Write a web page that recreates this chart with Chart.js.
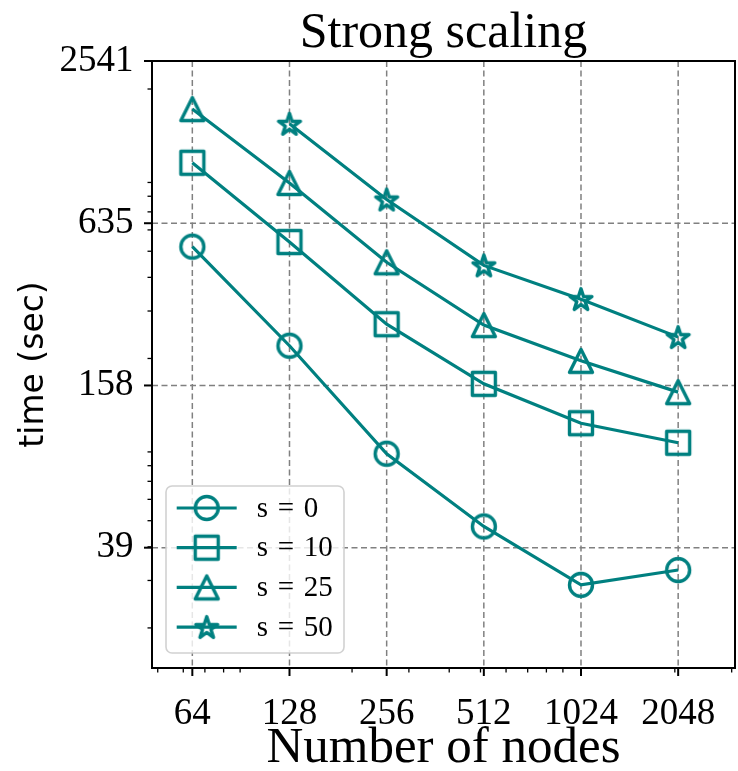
<!DOCTYPE html>
<html>
<head>
<meta charset="utf-8">
<script src="https://cdn.jsdelivr.net/npm/chart.js@4/dist/chart.umd.min.js"></script>
<style>html,body{margin:0;padding:0;background:#fff}canvas{display:block}</style>
</head>
<body>
<canvas id="c" width="738" height="771" style="width:738px;height:771px"></canvas>
<script>
// ---- data ----
const nodes = [64, 128, 256, 512, 1024, 2048];
const xTickLabels = ['64', '128', '256', '512', '1024', '2048'];
const seriesLabels = ['s = 0', 's = 10', 's = 25', 's = 50'];
const s0  = [520, 223, 88.6, 47.6, 28.9, 32.8];
const s10 = [1065, 541, 268, 161, 115, 97.3];
const s25 = [1685, 896, 455, 266, 196, 150];
const s50 = [null, 1485, 778, 443, 332, 240];
const yTickValues = [39.7, 158.8, 635.25, 2541];
const yTickLabels = ['39', '158', '635', '2541'];
const xMinorTicks = [50, 60, 70, 80, 90, 200, 300, 400, 500, 600, 700, 800, 900, 2000, 3000];
const yMinorTicks = [20, 30, 40, 50, 60, 70, 80, 90, 200, 300, 400, 500, 600, 700, 800, 900, 2000];

const TEAL = '#008080';
const SERIF = '"Liberation Serif", "Times New Roman", serif';

function makeMarker(kind) {
  const S = 36, c = document.createElement('canvas');
  c.width = S; c.height = S;
  const g = c.getContext('2d');
  g.strokeStyle = TEAL; g.lineWidth = 3.4; g.lineJoin = 'round';
  const m = S / 2, r = 11.5;
  g.beginPath();
  if (kind === 'circle') {
    g.arc(m, m, r, 0, Math.PI * 2);
  } else if (kind === 'square') {
    g.rect(m - r, m - r, 2 * r, 2 * r);
  } else if (kind === 'triangle') {
    g.moveTo(m, m - r); g.lineTo(m + r, m + r); g.lineTo(m - r, m + r); g.closePath();
  } else {
    const R = 11.5, ri = R * 0.381966;
    for (let k = 0; k < 10; k++) {
      const a = -Math.PI / 2 + k * Math.PI / 5;
      const rr = (k % 2) ? ri : R;
      const px = m + rr * Math.cos(a), py = m + 1 + rr * Math.sin(a);
      if (k === 0) g.moveTo(px, py); else g.lineTo(px, py);
    }
    g.closePath();
  }
  g.stroke();
  return c;
}
const markerImgs = ['circle', 'square', 'triangle', 'star'].map(makeMarker);
const seriesData = [s0, s10, s25, s50];

const axesPlugin = {
  id: 'mplAxes',
  beforeDatasetsDraw(chart) {
    const { ctx, chartArea: a, scales: { x, y } } = chart;
    ctx.save();
    ctx.strokeStyle = '#808080';
    ctx.lineWidth = 1.5;
    ctx.setLineDash([6, 3.5]);
    nodes.forEach(v => {
      const px = x.getPixelForValue(v);
      ctx.beginPath(); ctx.moveTo(px, a.top); ctx.lineTo(px, a.bottom); ctx.stroke();
    });
    yTickValues.forEach(v => {
      const py = y.getPixelForValue(v);
      ctx.beginPath(); ctx.moveTo(a.left, py); ctx.lineTo(a.right, py); ctx.stroke();
    });
    ctx.restore();
  },
  afterDatasetsDraw(chart) {
    const { ctx, chartArea: a, scales: { x, y } } = chart;
    ctx.save();
    ctx.strokeStyle = '#000';
    ctx.setLineDash([]);
    ctx.lineWidth = 1.3;
    xMinorTicks.forEach(v => {
      const px = x.getPixelForValue(v);
      ctx.beginPath(); ctx.moveTo(px, a.bottom); ctx.lineTo(px, a.bottom + 4.5); ctx.stroke();
    });
    yMinorTicks.forEach(v => {
      const py = y.getPixelForValue(v);
      ctx.beginPath(); ctx.moveTo(a.left, py); ctx.lineTo(a.left - 4.5, py); ctx.stroke();
    });
    ctx.lineWidth = 2;
    nodes.forEach(v => {
      const px = x.getPixelForValue(v);
      ctx.beginPath(); ctx.moveTo(px, a.bottom); ctx.lineTo(px, a.bottom + 8); ctx.stroke();
    });
    yTickValues.forEach(v => {
      const py = y.getPixelForValue(v);
      ctx.beginPath(); ctx.moveTo(a.left, py); ctx.lineTo(a.left - 8, py); ctx.stroke();
    });
    ctx.lineWidth = 2;
    ctx.strokeRect(a.left, a.top, a.right - a.left, a.bottom - a.top);
    ctx.restore();
  }
};

const legendPlugin = {
  id: 'mplLegend',
  afterDraw(chart) {
    const { ctx, chartArea: a } = chart;
    const w = 178, h = 167;
    const bx = a.left + 14, by = a.bottom - 15 - h;
    ctx.save();
    ctx.beginPath();
    if (ctx.roundRect) ctx.roundRect(bx, by, w, h, 6); else ctx.rect(bx, by, w, h);
    ctx.fillStyle = 'rgba(255,255,255,0.8)';
    ctx.fill();
    ctx.strokeStyle = 'rgba(204,204,204,0.9)';
    ctx.lineWidth = 1.6;
    ctx.stroke();
    chart.data.datasets.forEach((ds, i) => {
      const ry = by + 22 + i * 39.7;
      ctx.strokeStyle = ds.borderColor;
      ctx.lineWidth = ds.borderWidth;
      ctx.beginPath(); ctx.moveTo(bx + 10.7, ry); ctx.lineTo(bx + 70.7, ry); ctx.stroke();
      const img = ds.pointStyle;
      ctx.drawImage(img, bx + 40.7 - img.width / 2, ry - img.height / 2);
      ctx.fillStyle = '#000';
      ctx.font = '29px ' + SERIF;
      ctx.textBaseline = 'middle';
      ctx.textAlign = 'left';
      ctx.fillText(ds.label.replace(/ /g, '\u2004'), bx + 90.7, ry + 1);
    });
    ctx.restore();
  }
};

new Chart(document.getElementById('c'), {
  type: 'line',
  data: {
    datasets: seriesData.map((arr, i) => ({
      label: seriesLabels[i],
      data: nodes.map((n, j) => ({ x: n, y: arr[j] })),
      borderColor: TEAL,
      backgroundColor: 'transparent',
      borderWidth: 3.2,
      pointStyle: markerImgs[i],
      pointRadius: 12,
      pointHoverRadius: 12,
      fill: false,
      tension: 0
    }))
  },
  options: {
    responsive: false,
    animation: false,
    devicePixelRatio: 1,
    events: [],
    layout: { autoPadding: false, padding: { left: 0, right: 3, top: 0, bottom: 0 } },
    plugins: {
      legend: { display: false },
      tooltip: { enabled: false },
      title: {
        display: true, text: 'Strong scaling', fullSize: false, color: '#000',
        font: { family: SERIF, size: 50, weight: 'normal', lineHeight: 1.1 },
        padding: { top: 6, bottom: 0 }
      }
    },
    scales: {
      x: {
        type: 'logarithmic', position: 'bottom', min: 48, max: 3072,
        afterBuildTicks: s => { s.ticks = nodes.map(v => ({ value: v })); },
        afterFit: s => { s.height = 103; s.paddingLeft = 0; s.paddingRight = 0; },
        grid: { display: false, drawTicks: false },
        border: { display: false },
        ticks: {
          autoSkip: false, maxRotation: 0, minRotation: 0, padding: 24, color: '#000',
          font: { family: SERIF, size: 37 },
          callback: (v, i) => xTickLabels[i]
        },
        title: {
          display: true, text: 'Number of nodes', color: '#000',
          font: { family: SERIF, size: 51, lineHeight: 0.8 },
          padding: { top: 0, bottom: 2 }
        }
      },
      y: {
        type: 'logarithmic', position: 'left', min: 14.2, max: 2541,
        afterBuildTicks: s => { s.ticks = yTickValues.map(v => ({ value: v })); },
        afterFit: s => { s.width = 152; s.paddingTop = 0; s.paddingBottom = 0; },
        grid: { display: false, drawTicks: false },
        border: { display: false },
        ticks: {
          autoSkip: false, padding: 18.5, color: '#000',
          font: { family: SERIF, size: 37 },
          callback: (v, i) => yTickLabels[i]
        },
        title: {
          display: true, text: 'time (sec)', color: '#000',
          font: { family: '"DejaVu Sans", sans-serif', size: 33, lineHeight: 1.2 },
          padding: { top: 15, bottom: 0 }
        }
      }
    }
  },
  plugins: [axesPlugin, legendPlugin]
});
</script>
</body>
</html>
